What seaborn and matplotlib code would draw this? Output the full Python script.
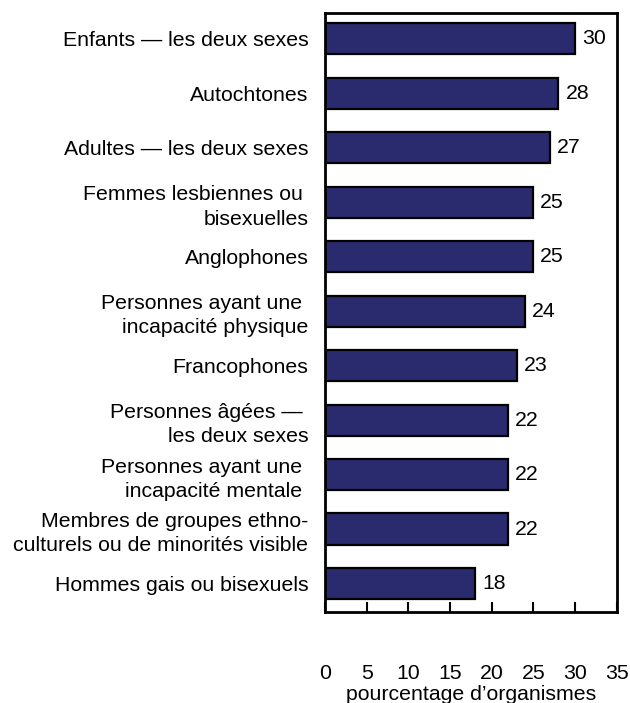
import seaborn as sns
import matplotlib.pyplot as plt
import pandas as pd

groups = [
    "Enfants \u2014 les deux sexes",
    "Autochtones",
    "Adultes \u2014 les deux sexes",
    "Femmes lesbiennes ou \nbisexuelles",
    "Anglophones",
    "Personnes ayant une \nincapacit\u00e9 physique",
    "Francophones",
    "Personnes \u00e2g\u00e9es \u2014 \nles deux sexes",
    "Personnes ayant une \nincapacit\u00e9 mentale ",
    "Membres de groupes ethno-\nculturels ou de minorit\u00e9s visible",
    "Hommes gais ou bisexuels",
]
percentages = [30, 28, 27, 25, 25, 24, 23, 22, 22, 22, 18]
x_ticks = [0, 5, 10, 15, 20, 25, 30, 35]

df = pd.DataFrame({"groupe": groups, "pct": percentages})

sns.set_style("ticks")
plt.rcParams['font.family'] = ['Liberation Sans', 'DejaVu Sans']
plt.rcParams['text.color'] = 'black'
plt.rcParams['axes.labelcolor'] = 'black'
plt.rcParams['xtick.color'] = 'black'
plt.rcParams['ytick.color'] = 'black'

fs = 15.3

fig = plt.figure(figsize=(6.3, 7.03), dpi=100)
ax = fig.add_axes([0.516, 0.129, 0.463, 0.852])

sns.barplot(data=df, x="pct", y="groupe", orient="h", color="#2a2a6e",
            saturation=1, edgecolor="black", linewidth=1.6, width=0.57, ax=ax)

ax.bar_label(ax.containers[0], padding=5, fontsize=fs, color="black")

ax.set_xlim(0, 35)
ax.set_ylim(10.53, -0.47)
ax.set_xticks(x_ticks)
ax.tick_params(axis="x", direction="in", length=7, width=1.5, pad=37, labelsize=fs)
ax.tick_params(axis="y", length=0, pad=12, labelsize=fs)
for lbl in ax.get_yticklabels():
    lbl.set_linespacing(1.35)
ax.set_ylabel("")
ax.set_xlabel("pourcentage d\u2019organismes", fontsize=fs, labelpad=2)

for side in ["left", "right", "top", "bottom"]:
    ax.spines[side].set_visible(True)
    ax.spines[side].set_linewidth(2)
    ax.spines[side].set_color("black")

plt.savefig("out.png", dpi=100)
